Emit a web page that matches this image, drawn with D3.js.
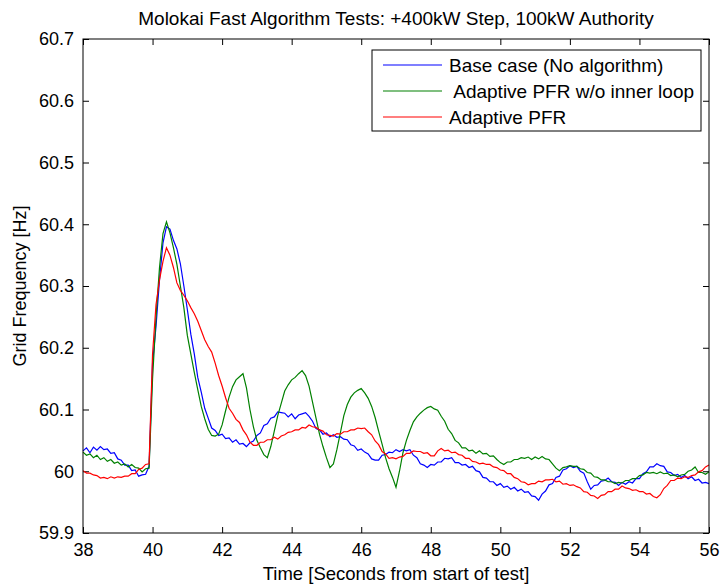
<!DOCTYPE html>
<html>
<head>
<meta charset="utf-8">
<script src="https://cdn.jsdelivr.net/npm/d3@7"></script>
<style>
    body { margin: 0; background: #fff; }
    text { font-family: "Liberation Sans", Arial, sans-serif; fill: #000; }
    .axis line { stroke: #000; }
    .axis path { display: none; }
    .line { fill: none; stroke-width: 1.2; }
</style>
</head>
<body>
<div id="graphHolder"></div>
<script>
'use strict'

// samples every 0.1 s from 38 s to 56 s
var times = d3.range(181).map(function (i) { return 38 + i / 10; });

var baseCase = [
    60.033, 60.038, 60.030, 60.039, 60.034, 60.040, 60.035, 60.036, 60.029, 60.030,
    60.020, 60.018, 60.010, 60.010, 60.001, 60.002, 59.992, 59.994, 59.995, 60.008,
    60.175, 60.235, 60.310, 60.370, 60.396, 60.392, 60.374, 60.360, 60.336, 60.300,
    60.262, 60.222, 60.190, 60.152, 60.128, 60.102, 60.086, 60.070, 60.066, 60.058,
    60.060, 60.053, 60.054, 60.047, 60.051, 60.044, 60.045, 60.040, 60.046, 60.049,
    60.058, 60.062, 60.074, 60.077, 60.086, 60.088, 60.096, 60.095, 60.094, 60.088,
    60.093, 60.085, 60.091, 60.093, 60.095, 60.089, 60.081, 60.069, 60.067, 60.060,
    60.062, 60.056, 60.059, 60.055, 60.056, 60.052, 60.051, 60.043, 60.041, 60.034,
    60.036, 60.031, 60.028, 60.020, 60.018, 60.018, 60.026, 60.027, 60.031, 60.030,
    60.035, 60.032, 60.035, 60.033, 60.035, 60.026, 60.022, 60.012, 60.010, 60.006,
    60.011, 60.010, 60.015, 60.015, 60.021, 60.020, 60.022, 60.014, 60.014, 60.010,
    60.011, 60.006, 60.008, 60.001, 59.999, 59.990, 59.989, 59.983, 59.983, 59.977,
    59.980, 59.974, 59.976, 59.971, 59.974, 59.968, 59.971, 59.966, 59.967, 59.960,
    59.959, 59.953, 59.963, 59.968, 59.978, 59.980, 59.990, 59.992, 60.002, 60.004,
    60.009, 60.006, 60.008, 60.000, 59.997, 59.983, 59.971, 59.977, 59.978, 59.984,
    59.985, 59.989, 59.983, 59.982, 59.977, 59.982, 59.979, 59.983, 59.981, 59.988,
    59.988, 59.996, 59.999, 60.007, 60.007, 60.012, 60.009, 60.008, 59.999, 59.998,
    59.993, 59.995, 59.990, 59.993, 59.988, 59.991, 59.985, 59.987, 59.981, 59.982,
    59.980
];

var noInnerLoop = [
    60.031, 60.026, 60.028, 60.022, 60.026, 60.019, 60.022, 60.016, 60.019, 60.013,
    60.015, 60.010, 60.012, 60.007, 60.011, 60.006, 60.005, 59.999, 60.004, 60.005,
    60.150, 60.250, 60.330, 60.385, 60.404, 60.386, 60.362, 60.335, 60.300, 60.265,
    60.220, 60.190, 60.160, 60.132, 60.105, 60.085, 60.068, 60.058, 60.057, 60.060,
    60.075, 60.098, 60.120, 60.137, 60.148, 60.153, 60.158, 60.135, 60.100, 60.072,
    60.050, 60.038, 60.027, 60.022, 60.040, 60.065, 60.090, 60.110, 60.130, 60.140,
    60.148, 60.152, 60.158, 60.163, 60.155, 60.138, 60.112, 60.086, 60.060, 60.040,
    60.022, 60.006, 60.012, 60.035, 60.062, 60.090, 60.108, 60.120, 60.127, 60.131,
    60.134, 60.127, 60.118, 60.105, 60.087, 60.065, 60.044, 60.022, 60.004, 59.990,
    59.974, 60.000, 60.030, 60.050, 60.066, 60.080, 60.088, 60.094, 60.099, 60.103,
    60.105, 60.101, 60.099, 60.089, 60.081, 60.068, 60.061, 60.050, 60.046, 60.038,
    60.038, 60.033, 60.034, 60.029, 60.033, 60.028, 60.029, 60.024, 60.025, 60.019,
    60.014, 60.011, 60.015, 60.015, 60.019, 60.019, 60.022, 60.021, 60.023, 60.019,
    60.023, 60.020, 60.024, 60.020, 60.019, 60.012, 60.005, 60.001, 60.006, 60.007,
    60.009, 60.008, 60.008, 60.004, 60.003, 59.998, 59.997, 59.991, 59.990, 59.986,
    59.986, 59.983, 59.983, 59.980, 59.982, 59.981, 59.985, 59.985, 59.988, 59.988,
    59.993, 59.994, 59.998, 59.997, 59.998, 59.996, 59.999, 59.996, 59.997, 59.993,
    59.994, 59.991, 59.994, 59.995, 60.000, 60.002, 60.007, 59.998, 59.998, 59.995,
    59.999
];

var adaptivePfr = [
    60.001, 59.997, 59.997, 59.994, 59.993, 59.989, 59.990, 59.988, 59.991, 59.989,
    59.991, 59.990, 59.992, 59.992, 59.996, 59.996, 60.003, 60.005, 60.011, 60.012,
    60.190, 60.270, 60.310, 60.340, 60.362, 60.350, 60.330, 60.305, 60.293, 60.285,
    60.276, 60.265, 60.255, 60.243, 60.228, 60.213, 60.202, 60.193, 60.175, 60.155,
    60.138, 60.119, 60.102, 60.094, 60.084, 60.079, 60.067, 60.059, 60.047, 60.042,
    60.042, 60.047, 60.047, 60.051, 60.051, 60.055, 60.052, 60.057, 60.059, 60.063,
    60.064, 60.067, 60.067, 60.071, 60.070, 60.075, 60.072, 60.071, 60.067, 60.065,
    60.059, 60.058, 60.057, 60.061, 60.060, 60.064, 60.064, 60.067, 60.067, 60.070,
    60.069, 60.070, 60.064, 60.059, 60.049, 60.043, 60.032, 60.028, 60.021, 60.022,
    60.020, 60.023, 60.024, 60.029, 60.029, 60.033, 60.032, 60.032, 60.029, 60.030,
    60.025, 60.025, 60.033, 60.037, 60.033, 60.034, 60.030, 60.031, 60.027, 60.026,
    60.021, 60.021, 60.016, 60.015, 60.012, 60.013, 60.011, 60.011, 60.007, 60.006,
    60.002, 60.001, 59.996, 59.996, 59.990, 59.988, 59.983, 59.982, 59.978, 59.980,
    59.980, 59.984, 59.983, 59.986, 59.986, 59.987, 59.983, 59.984, 59.979, 59.980,
    59.977, 59.978, 59.975, 59.973, 59.967, 59.966, 59.961, 59.960, 59.956, 59.961,
    59.962, 59.967, 59.967, 59.971, 59.971, 59.976, 59.973, 59.972, 59.969, 59.970,
    59.967, 59.967, 59.963, 59.964, 59.959, 59.957, 59.962, 59.972, 59.977, 59.985,
    59.985, 59.989, 59.988, 59.991, 59.990, 59.993, 59.994, 59.999, 60.001, 60.007,
    60.010
];

var seriesNames = ["Base case (No algorithm)", " Adaptive PFR w/o inner loop", "Adaptive PFR"];
var seriesColors = ["#0000ff", "#008000", "#ff0000"];
var xTicks = [38, 40, 42, 44, 46, 48, 50, 52, 54, 56];
var yTicks = [59.9, 60, 60.1, 60.2, 60.3, 60.4, 60.5, 60.6, 60.7];

var width = 721, height = 586;
var margins = {top: 39, left: 83, right: 12, bottom: 53};
var quadW = width - margins.left - margins.right,
    quadH = height - margins.top - margins.bottom;

var svg = d3.select("#graphHolder").append("svg")
        .attr("width", width)
        .attr("height", height);

var xScale = d3.scaleLinear().domain([38, 56]).range([0, quadW]);
var yScale = d3.scaleLinear().domain([59.9, 60.7]).range([quadH, 0]);

var bodyG = svg.append("g")
        .attr("transform", "translate(" + margins.left + "," + margins.top + ")");

// axes: ticks point inward on all four sides, like the matlab box
bodyG.append("g")
        .attr("class", "x axis")
        .attr("transform", "translate(0," + quadH + ")")
        .call(d3.axisBottom(xScale).tickValues(xTicks).tickSize(-6).tickPadding(10))
        .selectAll("text")
        .style("font-size", "18px");

bodyG.append("g")
        .attr("class", "axis")
        .call(d3.axisTop(xScale).tickValues(xTicks).tickSize(-6).tickFormat(""));

bodyG.append("g")
        .attr("class", "y axis")
        .call(d3.axisLeft(yScale).tickValues(yTicks).tickSize(-6).tickPadding(9)
                .tickFormat(function (d) { return String(+d.toFixed(1)); }))
        .selectAll("text")
        .style("font-size", "18px");

bodyG.append("g")
        .attr("class", "axis")
        .attr("transform", "translate(" + quadW + ",0)")
        .call(d3.axisRight(yScale).tickValues(yTicks).tickSize(-6).tickFormat(""));

var line = d3.line()
        .x(function (d, i) { return xScale(times[i]); })
        .y(function (d) { return yScale(d); });

[baseCase, noInnerLoop, adaptivePfr].forEach(function (values, i) {
    bodyG.append("path")
            .attr("class", "line")
            .style("stroke", seriesColors[i])
            .attr("d", line(values));
});

bodyG.append("rect")
        .attr("width", quadW)
        .attr("height", quadH)
        .attr("fill", "none")
        .attr("stroke", "#000")
        .attr("stroke-width", 1);

// legend
var legend = bodyG.append("g")
        .attr("transform", "translate(" + (quadW - 337) + ",11)");

legend.append("rect")
        .attr("width", 329)
        .attr("height", 81)
        .attr("fill", "#fff")
        .attr("stroke", "#000");

seriesNames.forEach(function (name, i) {
    var rowY = 15 + i * 26;
    legend.append("line")
            .attr("x1", 11).attr("x2", 70)
            .attr("y1", rowY).attr("y2", rowY)
            .style("stroke", seriesColors[i])
            .style("stroke-width", 1.2);
    legend.append("text")
            .attr("x", 77)
            .attr("y", rowY + 7)
            .attr("xml:space", "preserve")
            .style("white-space", "pre")
            .style("font-size", "19px")
            .text(name);
});

// titles
svg.append("text")
        .attr("x", margins.left + quadW / 2)
        .attr("y", 25)
        .attr("text-anchor", "middle")
        .style("font-size", "19px")
        .text("Molokai Fast Algorithm Tests: +400kW Step, 100kW Authority");

svg.append("text")
        .attr("x", margins.left + quadW / 2)
        .attr("y", 580)
        .attr("text-anchor", "middle")
        .style("font-size", "18.5px")
        .text("Time [Seconds from start of test]");

svg.append("text")
        .attr("transform", "translate(26," + (margins.top + quadH / 2) + ") rotate(-90)")
        .attr("text-anchor", "middle")
        .style("font-size", "18px")
        .text("Grid Frequency [Hz]");
</script>
</body>
</html>
